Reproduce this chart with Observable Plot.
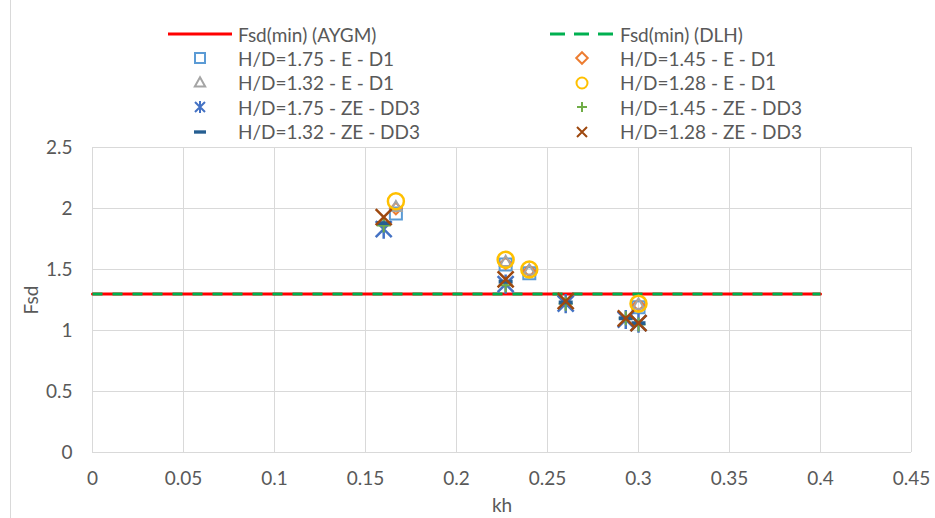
<!DOCTYPE html>
<html>
<head>
<meta charset="utf-8">
<script src="https://cdn.jsdelivr.net/npm/d3@7"></script>
<script src="https://cdn.jsdelivr.net/npm/@observablehq/plot@0.6"></script>
<style>
  html, body { margin: 0; padding: 0; background: #fff; }
  #chart { position: relative; width: 935px; height: 518px; font-family: Lato, "Open Sans", sans-serif; color: #595959; }
  #chart .edge { position: absolute; left: 10px; top: 0; width: 1px; height: 518px; background: #d9d9d9; }
  #legend { position: absolute; left: 0; top: 0; width: 935px; height: 140px; }
  .entry { position: absolute; display: flex; align-items: center; height: 24px; font-size: 19px; white-space: nowrap; }
  .entry svg { display: block; margin-right: 6px; }
</style>
</head>
<body>
<div id="chart"><div class="edge"></div><div id="legend"></div></div>
<script>
// Horizontal-load coefficient kh and safety factor Fsd for each test series
const khE  = [0.1667, 0.227, 0.24, 0.3];
const khZE = [0.16, 0.227, 0.26, 0.293, 0.3];

const fsdE175 = [1.96, 1.54, 1.47, 1.19];
const fsdE145 = [2.00, 1.55, 1.49, 1.21];
const fsdE132 = [2.01, 1.56, 1.49, 1.21];
const fsdE128 = [2.06, 1.58, 1.50, 1.22];

const fsdZE175 = [1.83, 1.38, 1.22, 1.09, 1.06];
const fsdZE145 = [1.86, 1.37, 1.22, 1.10, 1.05];
const fsdZE132 = [1.88, 1.40, 1.23, 1.10, 1.06];
const fsdZE128 = [1.93, 1.42, 1.24, 1.10, 1.06];

// Minimum required safety factor
const khMin  = [0, 0.4];
const fsdMin = [1.3, 1.3];

const xTicks = [0, 0.05, 0.1, 0.15, 0.2, 0.25, 0.3, 0.35, 0.4, 0.45];
const yTicks = [0, 0.5, 1, 1.5, 2, 2.5];
const xTickLabels = ["0", "0.05", "0.1", "0.15", "0.2", "0.25", "0.3", "0.35", "0.4", "0.45"];
const yTickLabels = ["0", "0.5", "1", "1.5", "2", "2.5"];

// Marker shapes (size = π r²)
const rad = s => Math.sqrt(s / Math.PI);
const symSquare = { draw(c, s) { const r = rad(s); c.rect(-r, -r, 2 * r, 2 * r); } };
const symDiamond = { draw(c, s) { const r = rad(s) * 1.15; c.moveTo(0, -r); c.lineTo(r, 0); c.lineTo(0, r); c.lineTo(-r, 0); c.closePath(); } };
const symTriangle = { draw(c, s) { const r = rad(s) * 1.15; c.moveTo(0, -r); c.lineTo(r * 0.9, r * 0.6); c.lineTo(-r * 0.9, r * 0.6); c.closePath(); } };
const symCircle = { draw(c, s) { const r = rad(s); c.moveTo(r, 0); c.arc(0, 0, r, 0, 2 * Math.PI); } };
const symAsterisk = { draw(c, s) { const r = rad(s); c.moveTo(-r, -r); c.lineTo(r, r); c.moveTo(r, -r); c.lineTo(-r, r); c.moveTo(0, -r * 1.2); c.lineTo(0, r * 1.2); } };
const symPlus = { draw(c, s) { const r = rad(s); c.moveTo(-r, 0); c.lineTo(r, 0); c.moveTo(0, -r); c.lineTo(0, r); } };
const symDash = { draw(c, s) { const r = rad(s); c.rect(-r, -r * 0.28, 2 * r, r * 0.56); } };
const symTimes = { draw(c, s) { const r = rad(s); c.moveTo(-r, -r); c.lineTo(r, r); c.moveTo(r, -r); c.lineTo(-r, r); } };

const series = [
  { name: "H/D=1.75 - E - D1",   color: "#5B9BD5", sym: symSquare,   kh: khE,  fsd: fsdE175,  r: 6,   sw: 2 },
  { name: "H/D=1.45 - E - D1",   color: "#ED7D31", sym: symDiamond,  kh: khE,  fsd: fsdE145,  r: 5,   sw: 2 },
  { name: "H/D=1.32 - E - D1",   color: "#A5A5A5", sym: symTriangle, kh: khE,  fsd: fsdE132,  r: 5.5, sw: 2 },
  { name: "H/D=1.28 - E - D1",   color: "#FFC000", sym: symCircle,   kh: khE,  fsd: fsdE128,  r: 8,   sw: 2.5 },
  { name: "H/D=1.75 - ZE - DD3", color: "#4472C4", sym: symAsterisk, kh: khZE, fsd: fsdZE175, r: 8,   sw: 2.5 },
  { name: "H/D=1.45 - ZE - DD3", color: "#70AD47", sym: symPlus,     kh: khZE, fsd: fsdZE145, r: 7,   sw: 2 },
  { name: "H/D=1.32 - ZE - DD3", color: "#255E91", sym: symDash,     kh: khZE, fsd: fsdZE132, r: 7,   sw: 0, fill: true },
  { name: "H/D=1.28 - ZE - DD3", color: "#9E480E", sym: symTimes,    kh: khZE, fsd: fsdZE128, r: 8,   sw: 2.5 }
];

const minLines = [
  { name: "Fsd(min) (AYGM)", color: "#FF0000", dash: null },
  { name: "Fsd(min) (DLH)",  color: "#00B050", dash: "10,10" }
];

const lineData = khMin.map((k, i) => ({ kh: k, fsd: fsdMin[i] }));

const marks = [
  Plot.gridX(xTicks, { stroke: "#d9d9d9", strokeOpacity: 1, strokeWidth: 1 }),
  Plot.gridY(yTicks, { stroke: "#d9d9d9", strokeOpacity: 1, strokeWidth: 1 }),
  Plot.axisX(xTicks, {
    tickSize: 0, tickPadding: 19, tickFormat: (d, i) => xTickLabels[i],
    label: "kh", labelAnchor: "center", labelArrow: "none", labelOffset: 59, fontSize: 19
  }),
  Plot.axisY(yTicks, {
    tickSize: 0, tickPadding: 20, tickFormat: (d, i) => yTickLabels[i],
    label: "Fsd", labelAnchor: "center", labelArrow: "none", labelOffset: 68, fontSize: 19
  }),
  Plot.line(lineData, { x: "kh", y: "fsd", stroke: minLines[0].color, strokeWidth: 3 }),
  Plot.line(lineData, { x: "kh", y: "fsd", stroke: minLines[1].color, strokeWidth: 3, strokeDasharray: minLines[1].dash, strokeLinecap: "butt" })
];

for (const s of series) {
  const data = s.kh.map((k, i) => ({ kh: k, fsd: s.fsd[i] }));
  marks.push(Plot.dot(data, {
    x: "kh", y: "fsd", symbol: s.sym, r: s.r,
    stroke: s.fill ? "none" : s.color,
    fill: s.fill ? s.color : "none",
    strokeWidth: s.sw
  }));
}

const plot = Plot.plot({
  width: 935,
  height: 518,
  marginTop: 147,
  marginBottom: 66,
  marginLeft: 92,
  marginRight: 24,
  x: { domain: [0, 0.45] },
  y: { domain: [0, 2.5] },
  style: { fontFamily: "Lato, 'Open Sans', sans-serif", fontSize: "19px", color: "#595959", background: "transparent" },
  marks
});
plot.style.position = "absolute";
plot.style.left = "0";
plot.style.top = "0";
document.getElementById("chart").appendChild(plot);

// Legend: two columns, filled row by row
const legend = d3.select("#legend");
const entries = [
  ...minLines.map(l => ({ name: l.name, line: l })),
  ...series.map(s => ({ name: s.name, marker: s }))
];
const colX = [168, 550];
entries.forEach((e, i) => {
  const col = i % 2, row = Math.floor(i / 2);
  const div = legend.append("div").attr("class", "entry")
    .style("left", colX[col] + "px")
    .style("top", (34 + row * 24.4 - 12) + "px");
  const svg = div.append("svg").attr("width", 64).attr("height", 24);
  if (e.line) {
    svg.append("line").attr("x1", 0).attr("x2", 64).attr("y1", 12).attr("y2", 12)
      .attr("stroke", e.line.color).attr("stroke-width", 3)
      .attr("stroke-dasharray", e.line.dash ? "15,9" : null);
  } else {
    const m = e.marker;
    const p = d3.path();
    const rr = m.sym === symCircle ? 5.5 : m.sym === symDash ? 6 : 5;
    m.sym.draw(p, Math.PI * rr * rr);
    svg.append("path").attr("d", p.toString()).attr("transform", "translate(32,12)")
      .attr("stroke", m.fill ? "none" : m.color).attr("fill", m.fill ? m.color : "none")
      .attr("stroke-width", 2);
  }
  div.append("span").text(e.name);
});
</script>
</body>
</html>
